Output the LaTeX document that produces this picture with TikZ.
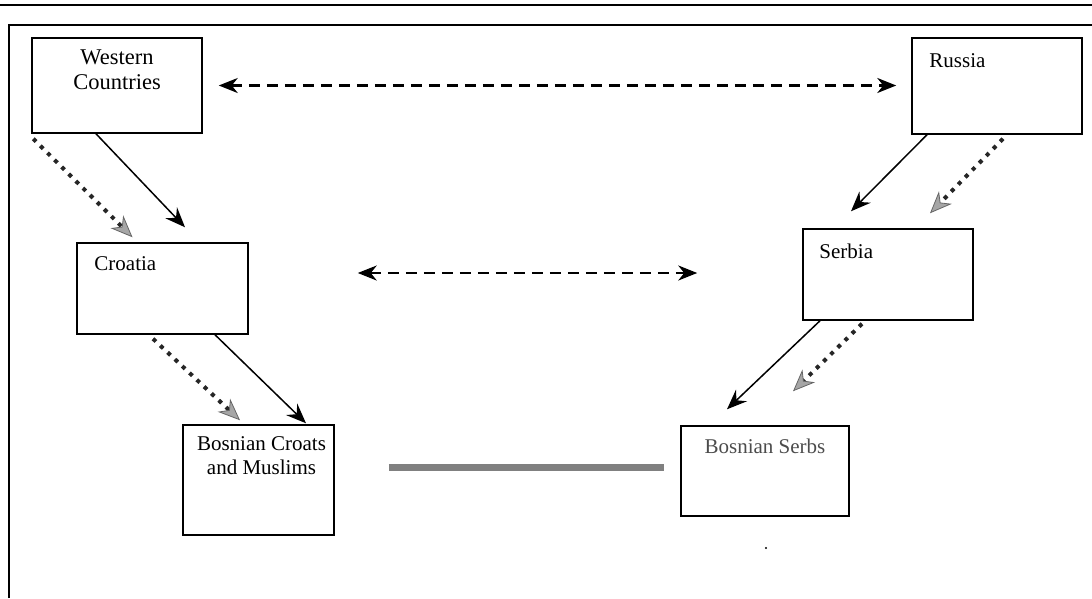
\documentclass[tikz,border=0pt]{standalone}
\usepackage{fontspec}
\setmainfont{Liberation Serif}
\usetikzlibrary{arrows.meta,calc}
\begin{document}
\begin{tikzpicture}[x=1pt,y=-1pt,
  box/.style={draw=black, line width=1.5pt, rectangle, inner sep=0pt},
  txt/.style={font=\fontsize{21}{24}\selectfont, inner sep=0pt, align=center},
  solidarr/.style={line width=1.5pt, -{Stealth[length=20pt,width=16pt,inset=7pt]}},
  dotarr/.style={line width=4pt, dash pattern=on 4pt off 6pt, black!85,
    -{Stealth[length=22pt,width=18pt,inset=7pt,line width=0.8pt,fill=black!35,color=black!60]}},
  dasharr/.style={line width=2.2pt, dash pattern=on 11pt off 7pt,
    {Stealth[length=19pt,width=15pt,inset=6pt]}-{Stealth[length=19pt,width=15pt,inset=6pt]}},
  frameline/.style={line width=2.5pt, black}
]
\useasboundingbox (0,0) rectangle (1092,598);
% frame
\draw[frameline] (0,5) -- (1092,5);
\draw[frameline] (9,598) -- (9,25) -- (1092,25);

% boxes
\node[box, minimum width=170pt, minimum height=95pt] (wc) at (117,85.5) {};
\node[box, minimum width=170pt, minimum height=96pt] (ru) at (997,86) {};
\node[box, minimum width=171pt, minimum height=91pt] (cr) at (162.5,288.5) {};
\node[box, minimum width=170pt, minimum height=91pt] (se) at (888,274.5) {};
\node[box, minimum width=151pt, minimum height=110pt] (bcm) at (258.5,480) {};
\node[box, minimum width=168pt, minimum height=90pt] (bs) at (765,471) {};

% texts
\node[txt, font=\fontsize{22.5}{25}\selectfont, anchor=north] (wct) at ($(wc.north)+(0,12)$) {Western\\Countries};
\node[txt, anchor=north west] (rut) at ($(ru.north west)+(18,16)$) {Russia};
\node[txt, anchor=north west] (crt) at ($(cr.north west)+(18,14)$) {Croatia};
\node[txt, anchor=north west] (set) at ($(se.north west)+(17,15)$) {Serbia};
\node[txt, anchor=north] (bcmt) at ($(bcm.north)+(3,12)$) {Bosnian Croats\\and Muslims};
\node[txt, anchor=north, text=black!70] (bst) at ($(bs.north)+(0,13)$) {Bosnian Serbs};

% dashed double arrows
\draw[dasharr] ($(wc.east)+(16,0)$) -- ($(ru.west)+(-15,-0.5)$);
\draw[dasharr] ($(cr.east)+(109,-15.5)$) -- ($(se.west)+(-105,-1.5)$);

% solid arrows
\draw[solidarr] ($(wc.south)+(-21,0)$) -- ($(cr.north)+(22.5,-15)$);
\draw[solidarr] ($(ru.south)+(-70,0)$) -- ($(se.north)+(-37,-17)$);
\draw[solidarr] ($(cr.south)+(52.5,0)$) -- ($(bcm.north)+(47.5,-1)$);
\draw[solidarr] ($(se.south)+(-68,0)$) -- ($(bs.north)+(-38,-16)$);

% dotted arrows
\draw[dotarr] ($(wc.south west)+(2,5)$) -- ($(cr.north)+(-30,-5)$);
\draw[dotarr] ($(ru.south)+(6,4)$) -- ($(se.north)+(42,-15)$);
\draw[dotarr] ($(cr.south)+(-9.5,4)$) -- ($(bcm.north)+(-18.5,-4)$);
\draw[dotarr] ($(se.south)+(-26,3)$) -- ($(bs.north)+(28,-34)$);

% grey bar
\draw[line width=7pt, black!50] ($(bcm.east)+(54,-13)$) -- ($(bs.west)+(-16,-4)$);

% small dot
\fill (766,548) circle (1.2pt);
\end{tikzpicture}
\end{document}
